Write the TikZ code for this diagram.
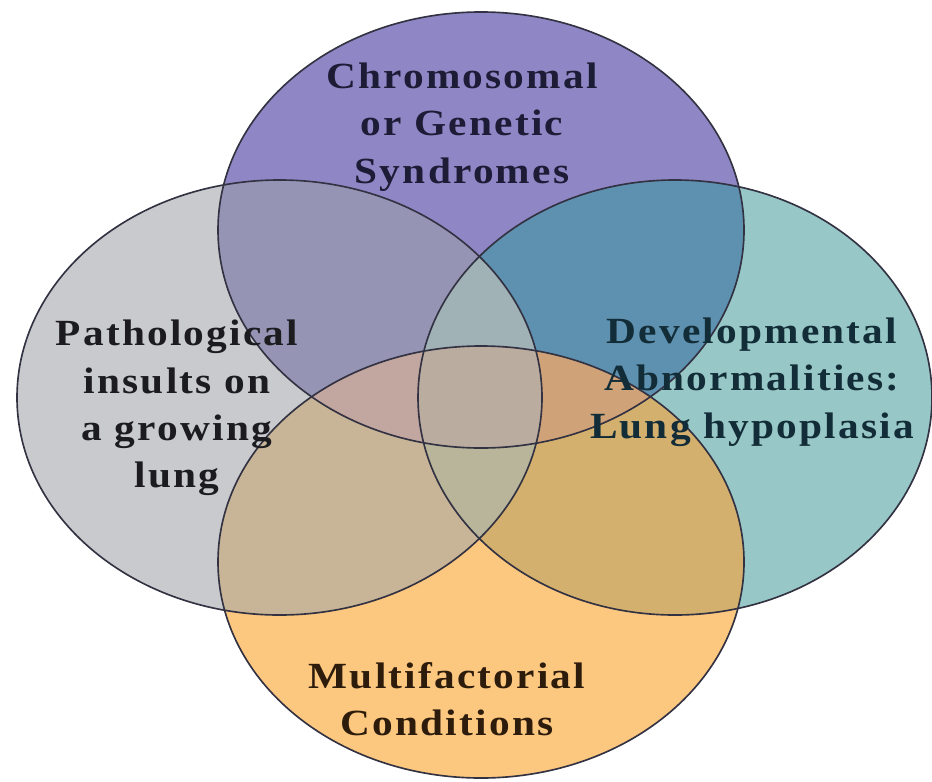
\documentclass[tikz,border=0pt]{standalone}
\usepackage{fontspec}
\newfontfamily\labelfont{Liberation Serif}[FakeStretch=1.12,LetterSpace=6]
\definecolor{cA}{RGB}{143,135,197}
\definecolor{cB}{RGB}{201,202,205}
\definecolor{cC}{RGB}{151,199,198}
\definecolor{cD}{RGB}{252,199,127}
\definecolor{cAB}{RGB}{150,148,181}
\definecolor{cAC}{RGB}{94,144,175}
\definecolor{cBD}{RGB}{200,181,151}
\definecolor{cCD}{RGB}{212,176,111}
\definecolor{cAD}{RGB}{190,168,150}
\definecolor{cBC}{RGB}{172,178,170}
\definecolor{cABD}{RGB}{194,166,160}
\definecolor{cACD}{RGB}{208,162,120}
\definecolor{cABC}{RGB}{160,178,182}
\definecolor{cBCD}{RGB}{184,181,154}
\definecolor{cABCD}{RGB}{187,172,160}
\definecolor{edge}{RGB}{50,50,66}
\definecolor{tA}{RGB}{28,28,55}
\definecolor{tB}{RGB}{28,28,32}
\definecolor{tC}{RGB}{18,45,55}
\definecolor{tD}{RGB}{45,28,12}
\def\EA{(481,230) ellipse [x radius=263, y radius=218]}
\def\EB{(279.5,397.5) ellipse [x radius=262.5, y radius=217.5]}
\def\EC{(675,397.5) ellipse [x radius=257, y radius=217.5]}
\def\ED{(481,562) ellipse [x radius=263, y radius=216]}
\tikzset{
  outline/.style={draw=edge, line width=1.4pt},
  lbl/.style={align=center, inner sep=0pt, font=\labelfont\bfseries\fontsize{31.5}{40.5}\selectfont}
}
\begin{document}
\begin{tikzpicture}[x=0.03cm, y=-0.03cm]
\useasboundingbox (0,0) rectangle (932,781);
% single regions
\fill[cA] \EA; \fill[cB] \EB; \fill[cC] \EC; \fill[cD] \ED;
% pairs
\begin{scope}\clip \EA; \fill[cAB] \EB; \fill[cAC] \EC; \fill[cAD] \ED;\end{scope}
\begin{scope}\clip \EB; \fill[cBD] \ED; \fill[cBC] \EC;\end{scope}
\begin{scope}\clip \EC; \fill[cCD] \ED;\end{scope}
% triples
\begin{scope}\clip \EA; \clip \EB; \fill[cABD] \ED; \fill[cABC] \EC;\end{scope}
\begin{scope}\clip \EA; \clip \EC; \fill[cACD] \ED;\end{scope}
\begin{scope}\clip \EB; \clip \EC; \fill[cBCD] \ED;\end{scope}
% all four
\begin{scope}\clip \EA; \clip \EB; \clip \EC; \fill[cABCD] \ED;\end{scope}
% outlines
\draw[outline] \EA; \draw[outline] \EB; \draw[outline] \EC; \draw[outline] \ED;
% labels
\node[lbl, text=tA] (chrom) at (462,127) {Chromosomal\\or Genetic\\Syndromes};
\node[lbl, text=tB] (patho) at (177,408) {Pathological\\insults on\\a growing\\lung};
\node[lbl, text=tC] (devel) at (752,382) {Developmental\\Abnormalities:\\Lung hypoplasia};
\node[lbl, text=tD] (multi) at (447,699) {Multifactorial\\Conditions};
\end{tikzpicture}
\end{document}
